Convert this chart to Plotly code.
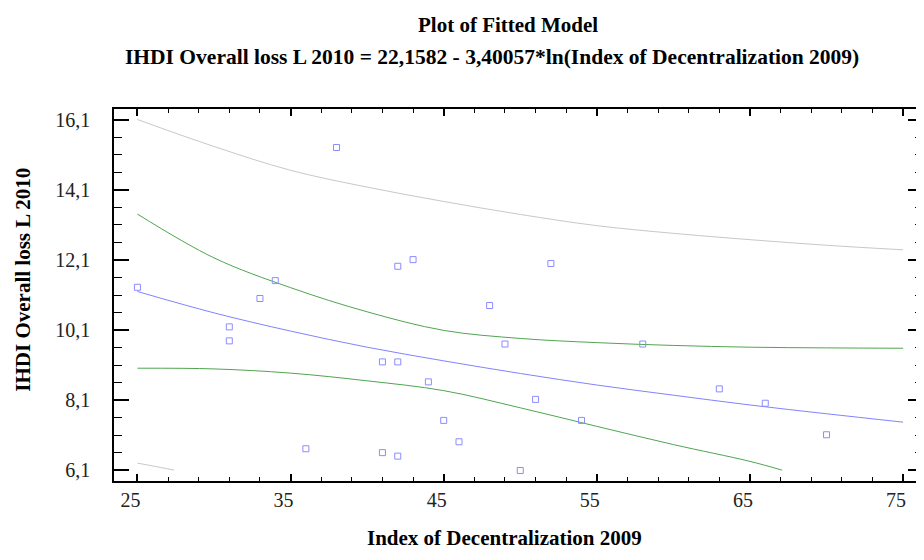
import plotly.graph_objects as go

# Observed data points (Index of Decentralization 2009, IHDI Overall loss L 2010)
pts_x = [25, 38, 34, 33, 31, 31, 42, 43, 48, 41, 42, 44, 45, 46, 36, 41, 42,
         52, 49, 51, 54, 50, 58, 63, 66, 70]
pts_y = [11.32, 15.31, 11.51, 11.0, 10.19, 9.79, 11.92, 12.11, 10.80, 9.19, 9.19,
         8.62, 7.52, 6.91, 6.71, 6.60, 6.50, 12.0, 9.70, 8.12, 7.52, 6.09, 9.70,
         8.42, 8.01, 7.11]

# Curves
line_x = [25, 30, 35, 40, 45, 50, 55, 60, 65, 70, 75]
fit_y = [11.20, 10.59, 10.07, 9.61, 9.22, 8.86, 8.53, 8.24, 7.96, 7.71, 7.47]
conf_up_y = [13.41, 12.16, 11.31, 10.62, 10.09, 9.86, 9.74, 9.66, 9.61, 9.59, 9.58]
pred_up_y = [16.11, 15.34, 14.66, 14.18, 13.77, 13.40, 13.08, 12.86, 12.68, 12.52, 12.39]
conf_lo_x = [25, 30, 35, 40, 45, 50, 55, 60, 65, 67.1]
conf_lo_y = [9.01, 8.99, 8.87, 8.65, 8.37, 7.88, 7.35, 6.83, 6.35, 6.10]
pred_lo_x = [25, 26, 27.4]
pred_lo_y = [6.30, 6.22, 6.10]

x_ticks = [25, 35, 45, 55, 65, 75]
y_ticks = [6.1, 8.1, 10.1, 12.1, 14.1, 16.1]
y_tick_text = ["6,1", "8,1", "10,1", "12,1", "14,1", "16,1"]

title1 = "Plot of Fitted Model"
title2 = "IHDI Overall loss L 2010 = 22,1582 - 3,40057*ln(Index of Decentralization 2009)"
x_title = "Index of Decentralization 2009"
y_title = "IHDI Overall loss L 2010"

FONT = "Liberation Serif"

fig = go.Figure()
fig.add_trace(go.Scatter(x=line_x, y=pred_up_y, mode="lines", line_shape="spline",
                         line=dict(color="rgb(200,200,200)", width=1), hoverinfo="skip"))
fig.add_trace(go.Scatter(x=pred_lo_x, y=pred_lo_y, mode="lines", line_shape="spline",
                         line=dict(color="rgb(200,200,200)", width=1), hoverinfo="skip"))
fig.add_trace(go.Scatter(x=line_x, y=conf_up_y, mode="lines", line_shape="spline",
                         line=dict(color="rgb(80,165,80)", width=1), hoverinfo="skip"))
fig.add_trace(go.Scatter(x=conf_lo_x, y=conf_lo_y, mode="lines", line_shape="spline",
                         line=dict(color="rgb(80,165,80)", width=1), hoverinfo="skip"))
fig.add_trace(go.Scatter(x=line_x, y=fit_y, mode="lines", line_shape="spline",
                         line=dict(color="rgb(130,130,255)", width=1), hoverinfo="skip"))
fig.add_trace(go.Scatter(x=pts_x, y=pts_y, mode="markers",
                         marker=dict(symbol="square-open", size=6,
                                     color="rgb(140,140,255)", line=dict(width=1))))

# page has an 8px body margin; size the figure so the plot area lands where the reference has it
fig.update_layout(
    width=916, height=544,
    margin=dict(l=106, r=1, t=101, b=71),
    paper_bgcolor="white", plot_bgcolor="white",
    showlegend=False,
    font=dict(family=FONT, color="black"),
)
fig.update_xaxes(
    range=[23.47, 76.3], tickvals=x_ticks, ticktext=[str(v) for v in x_ticks],
    automargin=False,
    showgrid=False, zeroline=False, showline=True, linecolor="black", linewidth=1.5,
    mirror="allticks", ticks="inside", ticklen=7, tickwidth=1.5, tickcolor="black",
    minor=dict(dtick=2, tick0=25, ticks="inside", ticklen=4, tickwidth=1, tickcolor="black"),
    tickfont=dict(size=20, family=FONT, color="#222"),
    ticklabelstandoff=0, ticklabelshift=-7,
)
fig.update_yaxes(
    range=[5.79, 16.41], tickvals=y_ticks, ticktext=y_tick_text,
    automargin=False,
    showgrid=False, zeroline=False, showline=True, linecolor="black", linewidth=1.5,
    mirror="allticks", ticks="inside", ticklen=15, tickwidth=1.5, tickcolor="black",
    minor=dict(dtick=0.5, tick0=6.1, ticks="inside", ticklen=8, tickwidth=1, tickcolor="black"),
    tickfont=dict(size=20, family=FONT, color="#222"),
    ticklabelstandoff=18,
)

def ann(text, xp, yp, size, angle=0):
    fig.add_annotation(text=f"<b>{text}</b>", x=xp, y=yp, xref="paper", yref="paper",
                       showarrow=False, xanchor="center", yanchor="middle",
                       textangle=angle, font=dict(size=size, family=FONT, color="black"))

X0, W = 114.3, 808.7   # plot area left / width in page pixels
Y1, H = 481.0, 372.0   # plot area bottom / height in page pixels
ann(title1, (508 - X0) / W, (Y1 - 25) / H, 21)
ann(title2, (492 - X0) / W, (Y1 - 57) / H, 21.5)
ann(x_title, (505 - X0) / W, (Y1 - 538) / H, 21)
ann(y_title, (23 - X0) / W, (Y1 - 280) / H, 21, angle=-90)

fig.write_html("out.html")
